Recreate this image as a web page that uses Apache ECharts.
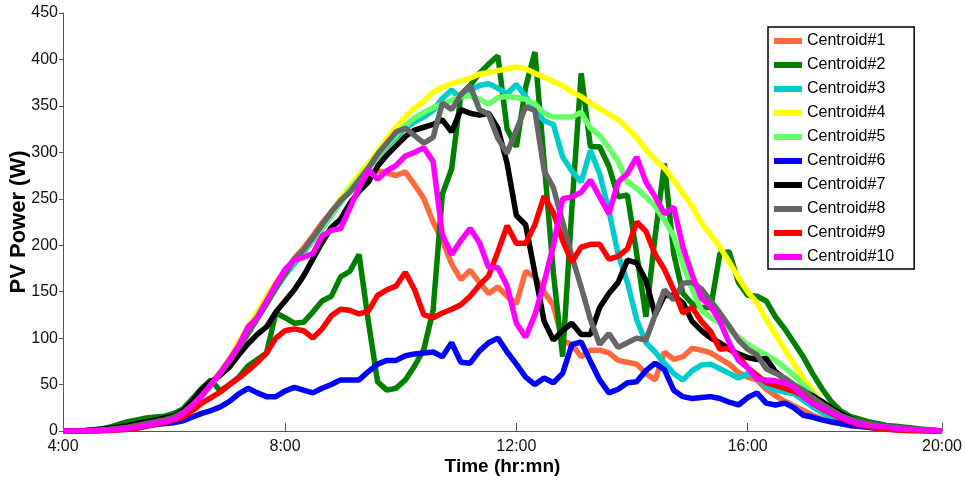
<!DOCTYPE html>
<html><head><meta charset="utf-8">
<script src="https://cdn.jsdelivr.net/npm/echarts@6.0.0/dist/echarts.min.js"></script>
<style>html,body{margin:0;padding:0;background:#fff}#c{width:966px;height:483px}</style>
</head><body><div id="c"></div>
<script>
const names = ['Centroid#1','Centroid#2','Centroid#3','Centroid#4','Centroid#5','Centroid#6','Centroid#7','Centroid#8','Centroid#9','Centroid#10'];
const colors = ['#ff6a3d','#008000','#00cccc','#ffff00','#66ff66','#0000ff','#000000','#666666','#ff0000','#ff00ff'];
const tickIdx = [0,24,49,74,95];
const tickLabels = ['4:00','8:00','12:00','16:00','20:00'];

const s1 = [0,0,0,0.5,1,2,3,4,6,8,
 10,12,15,20,28,38,50,63,76,91,
 106,122,139,156,172,186,197,210,224,236,
 248,258,268,275,280,278,275,279,265,250,
 225,205,180,163,173,160,148,155,145,137,
 172,166,150,135,97,93,80,87,87,84,
 76,74,72,62,55,85,77,80,89,87,
 84,78,72,63,58,55,45,38,32,27,
 22,17,13,10,8,6,5,4,3,2,
 1.5,1,1,0.5,0,0];
const s2 = [0,0,0,1,2,4,7,10,12,14,
 15,16,19,24,35,46,55,43,50,58,
 70,77,84,127,122,116,117,128,140,145,
 166,172,190,118,53,44,46,55,70,88,
 130,255,282,362,372,385,395,404,325,306,
 370,408,290,170,80,240,385,306,306,285,
 252,254,191,123,210,288,191,148,137,133,
 133,191,193,160,146,145,140,123,110,95,
 80,62,46,32,22,16,13,10,8,6,
 5,4,3,2,1,0];
const s3 = [0,0,0,0.5,1,2,3,4,6,8,
 10,12,15,20,28,38,50,62,75,90,
 105,121,137,153,168,180,192,205,218,232,
 246,260,272,283,295,306,316,326,333,338,
 345,358,367,358,367,372,374,369,363,373,
 360,345,334,330,295,280,268,302,277,237,
 190,160,120,95,85,73,62,55,65,71,
 72,67,62,57,62,58,48,44,42,40,
 33,26,20,15,12,9,7,5,4,3,
 2,2,1,1,0.5,0];
const s4 = [0,0,0,0.5,1,2,3,4,6,8,
 10,12,15,20,28,39,51,64,78,96,
 112,128,145,160,172,184,195,207,220,236,
 250,263,276,288,300,315,327,338,348,355,
 365,370,374,377,380,384,386,388,390,392,
 390,385,381,376,372,365,360,353,347,341,
 335,326,316,303,292,283,270,256,242,224,
 211,198,182,165,150,138,120,104,88,72,
 57,44,30,22,16,12,9,7,5,4,
 3,2,1.5,1,0.5,0];
const s5 = [0,0,0,0.5,1,2,3,4,6,8,
 10,12,15,20,28,38,50,63,76,92,
 108,124,140,157,171,183,194,206,219,233,
 247,260,272,284,296,308,319,329,337,343,
 348,352,356,360,361,357,352,359,360,359,
 357,352,342,338,338,338,343,326,318,305,
 290,268,261,252,242,227,210,180,152,130,
 122,116,109,101,93,87,82,76,68,60,
 50,40,30,22,17,13,10,8,6,5,
 4,3,2,1.5,1,0];
const s6 = [0,0,0,0,0.5,1,2,3,4,6,
 7,8,9,11,15,19,22,26,32,40,
 46,41,37,37,43,47,44,41,46,50,
 55,55,55,64,72,76,76,81,83,84,
 85,80,95,74,73,86,95,100,85,72,
 58,50,57,52,62,93,96,75,55,41,
 45,52,53,65,73,66,44,37,35,36,
 37,35,31,28,36,41,30,28,30,25,
 17,15,12,10,8,6,5,4,3,2.5,
 2,1.5,1,0.5,0,0];
const s7 = [0,0,0,1,2,3,4,6,8,10,
 12,14,16,22,32,45,53,60,69,82,
 94,104,112,128,140,152,167,185,203,219,
 228,245,258,268,285,297,307,317,324,327,
 330,335,322,346,342,340,342,326,288,232,
 222,170,118,98,108,116,104,104,133,148,
 160,184,181,162,125,146,146,138,118,108,
 100,95,88,83,79,77,78,64,56,49,
 43,38,32,25,19,14,10,8,6,5,
 4,3,2,1,0.5,0];
const s8 = [0,0,0,0.5,1,2,3,4,6,8,
 10,12,15,20,28,38,50,62,75,90,
 105,121,137,154,169,185,195,208,222,236,
 248,257,270,283,298,310,322,326,318,310,
 316,353,346,362,372,346,341,315,299,324,
 349,345,280,262,225,188,155,120,93,105,
 90,95,100,98,125,152,141,159,160,153,
 140,127,113,98,88,82,67,62,57,50,
 44,36,29,23,17,13,10,8,6,5,
 4,3,2,1,0.5,0];
const s9 = [0,0,0,0,0,0.5,1,2,3,5,
 7,9,12,15,22,30,36,42,50,57,
 65,74,84,100,108,110,108,100,110,124,
 131,130,126,129,146,152,156,171,152,125,
 122,127,131,136,145,157,167,193,221,202,
 202,222,253,235,205,182,198,201,201,185,
 188,196,225,215,190,174,152,127,133,118,
 107,88,89,80,68,60,52,49,46,43,
 38,30,24,19,14,10,7,5,3,2,
 1,0.5,0,0,0,0];
const s10 = [0,0,0,0,0.5,1,2,3,4,6,
 8,10,13,19,28,38,50,63,77,92,
 112,122,140,158,174,184,187,191,210,216,
 218,240,262,281,271,280,286,296,300,305,
 290,211,190,205,218,203,176,176,156,116,
 101,125,160,200,250,252,257,270,252,234,
 268,277,295,268,252,234,241,198,168,143,
 134,118,95,76,68,56,55,54,52,47,
 37,30,25,20,15,11,8,6,5,4,
 3,2,1.5,1,0.5,0];

const allData = [s1,s2,s3,s4,s5,s6,s7,s8,s9,s10];
const FONT = '"Liberation Sans", Arial, Helvetica, sans-serif';

const chart = echarts.init(document.getElementById('c'), null, {renderer:'canvas'});
chart.setOption({
  animation: false,
  backgroundColor: '#fff',
  textStyle: {fontFamily: FONT},
  grid: {left: 63, right: 24, top: 13, bottom: 52, containLabel: false, outerBoundsMode: 'none'},
  xAxis: {
    type: 'value', min: 0, max: 95,
    name: 'Time (hr:mn)', nameLocation: 'middle', nameGap: 26, nameMoveOverlap: false,
    nameTextStyle: {fontSize: 19, fontWeight: 'bold', color: '#000', fontFamily: FONT},
    axisLine: {show: true, lineStyle: {color: '#555', width: 1}},
    axisTick: {show: true, inside: true, length: 8, customValues: tickIdx, lineStyle: {color: '#555'}},
    axisLabel: {customValues: tickIdx, formatter: v => tickLabels[tickIdx.indexOf(v)] || '', fontSize: 16, color: '#111', margin: 8, fontFamily: FONT},
    splitLine: {show: false}
  },
  yAxis: {
    type: 'value', min: 0, max: 450, interval: 50,
    name: 'PV Power (W)', nameLocation: 'middle', nameGap: 33, nameMoveOverlap: false,
    nameTextStyle: {fontSize: 22, fontWeight: 'bold', color: '#000', fontFamily: FONT},
    axisLine: {show: true, lineStyle: {color: '#555', width: 1}},
    axisTick: {show: true, length: 4, lineStyle: {color: '#555'}},
    axisLabel: {fontSize: 16, color: '#111', margin: 5, fontFamily: FONT},
    splitLine: {show: false}
  },
  legend: {
    orient: 'vertical', left: 768, top: 27,
    backgroundColor: '#fff', borderColor: '#000', borderWidth: 1.5,
    padding: [5, 20, 3, 6],
    itemWidth: 28, itemHeight: 6, itemGap: 6,
    icon: 'rect',
    textStyle: {fontSize: 16, color: '#000', lineHeight: 18, fontFamily: FONT},
    data: names
  },
  series: names.map((n, k) => ({
    name: n, type: 'line', showSymbol: false, symbol: 'none',
    data: allData[k].map((v, i) => [i, v]),
    lineStyle: {color: colors[k], width: 5.5},
    itemStyle: {color: colors[k]},
    emphasis: {disabled: true}
  }))
});
</script>
</body></html>
